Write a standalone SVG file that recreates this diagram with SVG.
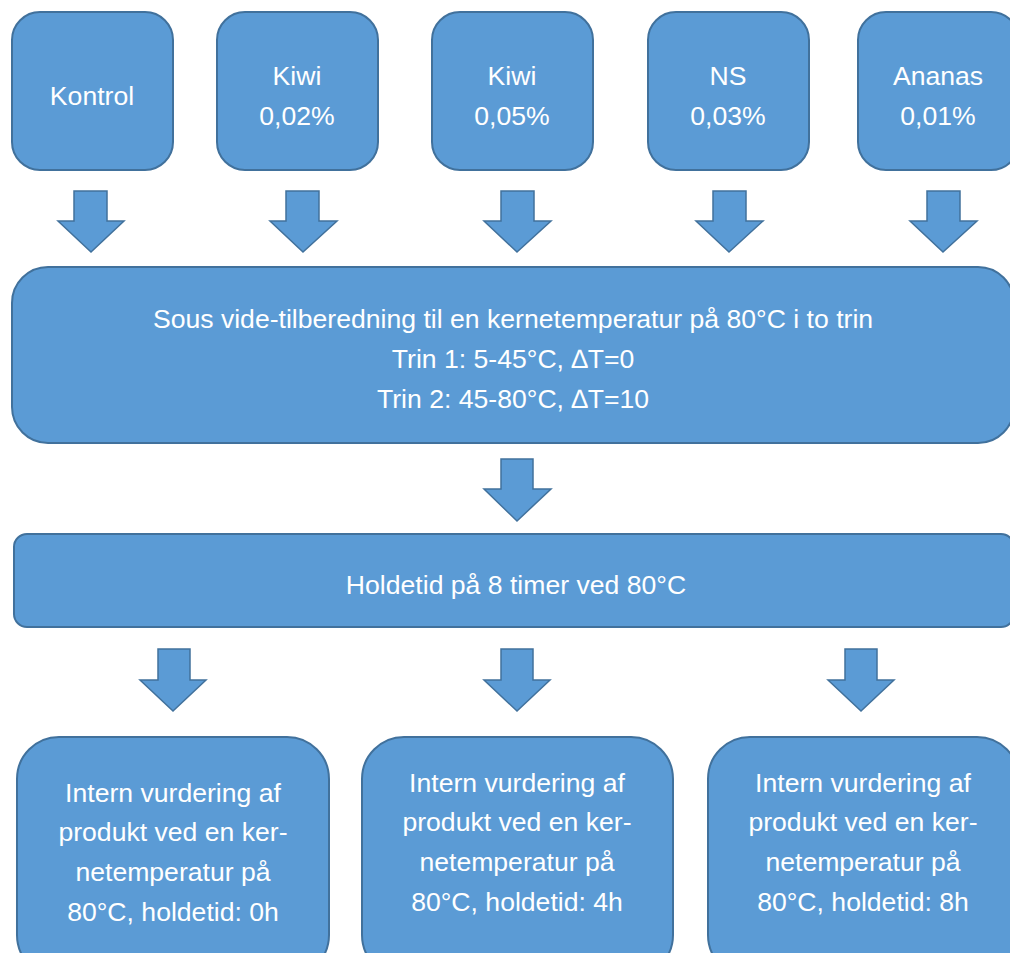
<svg xmlns="http://www.w3.org/2000/svg" width="1010" height="953" viewBox="0 0 1010 953">
<style>
.box{fill:#5B9BD5;stroke:#41719C;stroke-width:2}
.arr{fill:#5B9BD5;stroke:#41719C;stroke-width:1.5;stroke-linejoin:miter}
text{font-family:"Liberation Sans",Arial,sans-serif;font-size:26.6px;fill:#fff;text-anchor:middle}
</style>
<rect width="1010" height="953" fill="#fff"/>
<g id="kontrol"><rect class="box" x="12" y="12" width="161" height="158" rx="28"/><text x="92" y="105">Kontrol</text></g>
<g id="kiwi002"><rect class="box" x="217" y="12" width="161" height="158" rx="28"/><text x="297" y="85">Kiwi</text><text x="297" y="125">0,02%</text></g>
<g id="kiwi005"><rect class="box" x="432" y="12" width="161" height="158" rx="28"/><text x="512" y="85">Kiwi</text><text x="512" y="125">0,05%</text></g>
<g id="ns"><rect class="box" x="648" y="12" width="161" height="158" rx="28"/><text x="728" y="85">NS</text><text x="728" y="125">0,03%</text></g>
<g id="ananas"><rect class="box" x="858" y="12" width="161" height="158" rx="28"/><text x="938" y="85">Ananas</text><text x="938" y="125">0,01%</text></g>
<g id="sousvide"><rect class="box" x="12" y="267" width="1002" height="176" rx="36"/><text x="513" y="328">Sous vide-tilberedning til en kernetemperatur på 80°C i to trin</text><text x="513" y="368">Trin 1: 5-45°C, ∆T=0</text><text x="513" y="408">Trin 2: 45-80°C, ∆T=10</text></g>
<g id="holdetid"><rect class="box" x="14" y="534" width="1000" height="93" rx="13"/><text x="516" y="594">Holdetid på 8 timer ved 80°C</text></g>
<g id="vurd0"><rect class="box" x="17" y="737" width="312" height="240" rx="42"/><text x="173" y="802">Intern vurdering af</text><text x="173" y="841">produkt ved en ker-</text><text x="173" y="881">netemperatur på</text><text x="173" y="921">80°C, holdetid: 0h</text></g>
<g id="vurd4"><rect class="box" x="362" y="737" width="311" height="240" rx="42"/><text x="517" y="792">Intern vurdering af</text><text x="517" y="831">produkt ved en ker-</text><text x="517" y="871">netemperatur på</text><text x="517" y="911">80°C, holdetid: 4h</text></g>
<g id="vurd8"><rect class="box" x="708" y="737" width="311" height="240" rx="42"/><text x="863" y="792">Intern vurdering af</text><text x="863" y="831">produkt ved en ker-</text><text x="863" y="871">netemperatur på</text><text x="863" y="911">80°C, holdetid: 8h</text></g>
<g id="connectors">
<polygon class="arr" points="74,191 107,191 107,221 124,221 91,252 58,221 74,221"/>
<polygon class="arr" points="286,191 319,191 319,221 337,221 303,252 270,221 286,221"/>
<polygon class="arr" points="501,191 534,191 534,221 551,221 517,252 484,221 501,221"/>
<polygon class="arr" points="713,191 746,191 746,221 763,221 729,252 696,221 713,221"/>
<polygon class="arr" points="927,191 960,191 960,221 977,221 943,252 910,221 927,221"/>
<polygon class="arr" points="501,459 533,459 533,489 551,489 517,521 484,489 501,489"/>
<polygon class="arr" points="158,649 190,649 190,680 206,680 173,711 140,680 158,680"/>
<polygon class="arr" points="501,649 533,649 533,680 550,680 517,711 484,680 501,680"/>
<polygon class="arr" points="845,649 877,649 877,680 894,680 861,711 828,680 845,680"/>
</g>
</svg>
